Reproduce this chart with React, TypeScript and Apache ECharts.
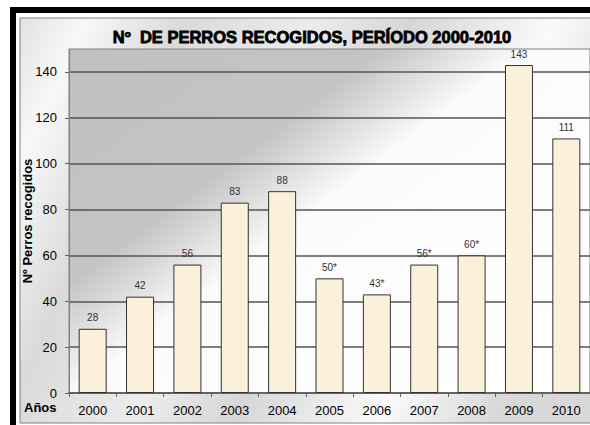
import React, { useEffect, useRef } from "react";
import * as echarts from "echarts";

const years = ["2000", "2001", "2002", "2003", "2004", "2005", "2006", "2007", "2008", "2009", "2010"];
const perros = [28, 42, 56, 83, 88, 50, 43, 56, 60, 143, 111];
const estimado = [false, false, false, false, false, true, true, true, true, false, false];

const titleText = "Nº  DE PERROS RECOGIDOS, PERÍODO 2000-2010";
const yAxisName = "Nº Perros recogidos";
const xAxisName = "Años";

export default function App() {
  const ref = useRef<HTMLDivElement>(null);
  useEffect(() => {
    if (!ref.current) return;
    const chart = echarts.init(ref.current, null, { renderer: "svg" });
    const font = "Liberation Sans, Arial, sans-serif";
    chart.setOption({
      animation: false,
      textStyle: { fontFamily: font },
      graphic: [
        { type: "rect", z: -10, silent: true, shape: { x: 10, y: 7, width: 600, height: 440 }, style: { fill: "#000" } },
        { type: "rect", z: -10, silent: true, shape: { x: 16, y: 13, width: 600, height: 440 }, style: { fill: "#fff" } },
        {
          type: "rect",
          z: -9,
          silent: true,
          shape: { x: 20, y: 18, width: 600, height: 405 },
          style: {
            fill: new echarts.graphic.LinearGradient(0, 0, 1, 0.3, [
              { offset: 0, color: "#e2e2e2" },
              { offset: 0.1, color: "#f8f8f8" },
              { offset: 0.25, color: "#dadada" },
              { offset: 0.45, color: "#ececec" },
              { offset: 0.6, color: "#d6d6d6" },
              { offset: 0.82, color: "#fafafa" },
              { offset: 1, color: "#d8d8d8" },
            ]),
            stroke: "#808080",
            lineWidth: 1,
          },
        },
        {
          type: "text",
          z: 5,
          x: 24,
          y: 407,
          style: { text: xAxisName, font: "bold 13px " + font, fill: "#000", textVerticalAlign: "middle" },
        },
      ],
      title: {
        text: titleText,
        left: 312,
        top: 28,
        textAlign: "center",
        padding: 0,
        textStyle: {
          fontFamily: font,
          fontSize: 16.5,
          fontWeight: "bold",
          color: "#000",
          textBorderColor: "#000",
          textBorderWidth: 0.8,
        },
      },
      grid: {
        left: 69,
        top: 49,
        right: 0,
        bottom: 32,
        show: true,
        borderColor: "#808080",
        borderWidth: 1,
        backgroundColor: new echarts.graphic.LinearGradient(0, 0, 1, 0.88, [
          { offset: 0, color: "#c0c0c0" },
          { offset: 0.34, color: "#c4c4c4" },
          { offset: 0.5, color: "#fbfbfb" },
          { offset: 1, color: "#ffffff" },
        ]),
      },
      xAxis: {
        type: "category",
        data: years,
        axisLine: { lineStyle: { color: "#606060", width: 1.5 } },
        axisTick: { show: true, length: 4, lineStyle: { color: "#606060" } },
        axisLabel: { color: "#000", fontSize: 13, margin: 11, fontFamily: font },
      },
      yAxis: {
        type: "value",
        min: 0,
        max: 150,
        interval: 20,
        name: yAxisName,
        nameLocation: "middle",
        nameGap: 35,
        nameMoveOverlap: false,
        nameTextStyle: { fontSize: 13, fontWeight: "bold", color: "#000", fontFamily: font },
        axisLine: { show: true, lineStyle: { color: "#808080" } },
        axisTick: { show: true, length: 4, lineStyle: { color: "#606060" } },
        axisLabel: { color: "#000", fontSize: 13, margin: 12, showMaxLabel: false, fontFamily: font },
        splitLine: { show: true, showMaxLine: false, lineStyle: { color: "#555", width: 1.5 } },
      },
      series: [
        {
          type: "bar",
          data: perros,
          barWidth: 28,
          itemStyle: { color: "#fbf0da", borderColor: "#333", borderWidth: 1 },
          label: {
            show: true,
            position: "top",
            distance: 6,
            fontSize: 10,
            color: "#333",
            fontFamily: font,
            formatter: (p: any) => p.value + (estimado[p.dataIndex] ? "*" : ""),
          },
        },
      ],
    });
    return () => chart.dispose();
  }, []);
  return <div ref={ref} style={{ position: "absolute", left: 0, top: 0, width: 590, height: 425 }} />;
}
